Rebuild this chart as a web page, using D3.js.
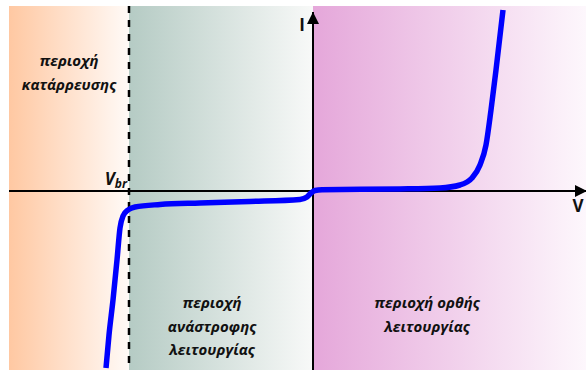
<!DOCTYPE html>
<html>
<head>
<meta charset="utf-8">
<title>Diode I-V</title>
<script src="https://cdn.jsdelivr.net/npm/d3@7/dist/d3.min.js"></script>
<style>
  body { margin: 0; background: #fff; }
  text { font-family: "Open Sans", "Noto Sans", sans-serif; font-weight: bold; fill: #111; }
</style>
</head>
<body>
<script>
// voltage / current values (arbitrary units)
var vRange = [-30.4, 27.3];
var iRange = [-17.9, 18.5];
var vbr = -18.4;

// region bounds along V
var regionEdges = [-30.4, vbr, 0, 27.3];
var regionLabels = [
    ["περιοχή", "κατάρρευσης"],
    ["περιοχή", "ανάστροφης", "λειτουργίας"],
    ["περιοχή ορθής", "λειτουργίας"]
];

// characteristic curve
var curveV = [-20.7, -20.4, -20.0, -19.6, -19.3, -19.0, -18.5, -17.8, -15.3, -11.3, -6.3, -1.3, -0.6, -0.2, 0.2, 0.9, 8.7, 12.7, 14.7, 15.9, 16.7, 17.3, 17.8, 18.3, 19.0];
var curveI = [-17.7, -14.4, -10.9, -6.9, -3.7, -2.5, -1.9, -1.6, -1.35, -1.2, -1.05, -0.85, -0.6, -0.2, 0.05, 0.13, 0.2, 0.3, 0.6, 1.3, 2.6, 4.6, 8.1, 12.1, 18.1];

var width = 586, height = 373;
var x = d3.scaleLinear().domain(vRange).range([9, 586]);
var y = d3.scaleLinear().domain(iRange).range([370, 6]);

var svg = d3.select("body").append("svg")
    .attr("width", width)
    .attr("height", height);

var defs = svg.append("defs");
var grads = [["#ffc8a2", "#fffaf7"], ["#b5cbc4", "#f8f9f8"], ["#e5a7da", "#fdf7fc"]];
grads.forEach(function(g, i) {
    var lg = defs.append("linearGradient").attr("id", "g" + i);
    lg.append("stop").attr("offset", "0%").attr("stop-color", g[0]);
    lg.append("stop").attr("offset", "100%").attr("stop-color", g[1]);
});

defs.append("marker")
    .attr("id", "arrow")
    .attr("viewBox", "0 0 10 10")
    .attr("refX", 10).attr("refY", 5)
    .attr("markerWidth", 6.5).attr("markerHeight", 6)
    .attr("markerUnits", "strokeWidth")
    .attr("orient", "auto")
  .append("path")
    .attr("d", "M0,0L10,5L0,10Z")
    .attr("fill", "#000");

// background regions
svg.selectAll("rect.region")
    .data(d3.range(regionEdges.length - 1))
  .enter().append("rect")
    .attr("class", "region")
    .attr("x", function(i) { return x(regionEdges[i]); })
    .attr("y", y(iRange[1]))
    .attr("width", function(i) { return x(regionEdges[i + 1]) - x(regionEdges[i]); })
    .attr("height", y(iRange[0]) - y(iRange[1]))
    .attr("fill", function(i) { return "url(#g" + i + ")"; });

// axes
svg.append("line")
    .attr("x1", x(vRange[0])).attr("x2", x(vRange[1]) + 1)
    .attr("y1", y(0)).attr("y2", y(0))
    .attr("stroke", "#000").attr("stroke-width", 2)
    .attr("marker-end", "url(#arrow)");

svg.append("line")
    .attr("x1", x(0)).attr("x2", x(0))
    .attr("y1", y(iRange[0])).attr("y2", y(17.9))
    .attr("stroke", "#000").attr("stroke-width", 2)
    .attr("marker-end", "url(#arrow)");

// breakdown voltage marker
svg.append("line")
    .attr("x1", x(vbr)).attr("x2", x(vbr))
    .attr("y1", y(iRange[1])).attr("y2", y(iRange[0]))
    .attr("stroke", "#000").attr("stroke-width", 2.5)
    .attr("stroke-dasharray", "7,7");

// curve
var line = d3.line()
    .curve(d3.curveMonotoneX)
    .x(function(d) { return x(d[0]); })
    .y(function(d) { return y(d[1]); });

svg.append("path")
    .datum(d3.zip(curveV, curveI))
    .attr("d", line)
    .attr("fill", "none")
    .attr("stroke", "#0000ff")
    .attr("stroke-width", 5.5)
    .attr("stroke-linecap", "butt");

// region labels
var labelPos = [[-24.4, 12.5], [-10.1, -11.7], [11.4, -11.7]];
regionLabels.forEach(function(lines, i) {
    var t = svg.append("text")
        .attr("text-anchor", "middle")
        .attr("font-style", "italic")
        .attr("font-size", 15)
        .attr("x", x(labelPos[i][0]))
        .attr("y", y(labelPos[i][1]));
    lines.forEach(function(s, k) {
        t.append("tspan")
            .attr("x", x(labelPos[i][0]))
            .attr("dy", k === 0 ? 0 : 23.5)
            .text(s);
    });
});

// axis labels
svg.append("text")
    .attr("x", x(0) - 11).attr("y", y(16.0))
    .attr("text-anchor", "middle")
    .attr("font-size", 17)
    .text("I");

svg.append("text")
    .attr("x", x(26.5)).attr("y", y(-2.1))
    .attr("text-anchor", "middle")
    .attr("font-size", 17)
    .text("V");

var vb = svg.append("text")
    .attr("x", x(vbr) - 2).attr("y", y(0.6))
    .attr("text-anchor", "end")
    .attr("font-style", "italic")
    .attr("font-size", 17);
vb.append("tspan").text("V");
vb.append("tspan").attr("font-size", 12).attr("dy", 3).text("br");
</script>
</body>
</html>
